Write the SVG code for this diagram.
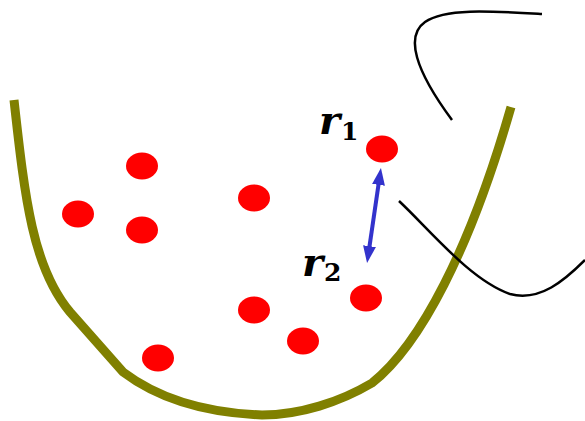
<svg xmlns="http://www.w3.org/2000/svg" width="585" height="421" viewBox="0 0 585 421">
<style>
.dot{fill:#ff0000}
.lbl{font-family:"DejaVu Serif","Liberation Serif",serif;font-weight:bold;font-style:italic;fill:#000}
.sub{font-family:"DejaVu Serif","Liberation Serif",serif;font-weight:bold;font-style:normal;fill:#000}
.blk{fill:none;stroke:#000;stroke-width:2.5}
</style>
<defs>
<marker id="ah" viewBox="0 -7 17 14" refX="7" refY="0" markerWidth="17" markerHeight="14" markerUnits="userSpaceOnUse" orient="auto-start-reverse">
<path d="M0,-6.5 L17,0 L0,6.5 z" fill="#3333cc"/>
</marker>
</defs>
<rect width="585" height="421" fill="#fff"/>
<path d="M14,100 C25,200 33,268 70,312 L123,372 C160,400 210,413 262,415 C300,415 340,402 372,383 C420,345 470,250 511,107" fill="none" stroke="#808000" stroke-width="9"/>
<path class="blk" d="M542,14 C490,11 445,8 425,22 C405,36 415,70 452,120"/>
<path class="blk" d="M399,201 C430,230 470,280 510,294 C540,302 565,280 585,260"/>
<g id="nodes">
<g id="p1"><ellipse class="dot" cx="142" cy="166" rx="16" ry="13.5"/></g>
<g id="p2"><ellipse class="dot" cx="78" cy="214" rx="16" ry="13.5"/></g>
<g id="p3"><ellipse class="dot" cx="142" cy="230" rx="16" ry="13.5"/></g>
<g id="p4"><ellipse class="dot" cx="254" cy="198" rx="16" ry="13.5"/></g>
<g id="p5"><ellipse class="dot" cx="254" cy="310" rx="16" ry="13.5"/></g>
<g id="p6"><ellipse class="dot" cx="158" cy="358" rx="16" ry="13.5"/></g>
<g id="p7"><ellipse class="dot" cx="303" cy="341" rx="16" ry="13.5"/></g>
<g id="r2"><ellipse class="dot" cx="366" cy="298" rx="16" ry="13.5"/></g>
<g id="r1"><ellipse class="dot" cx="382" cy="149" rx="16" ry="13.5"/></g>
</g>
<g id="connectors">
<line x1="379.5" y1="177.9" x2="368.5" y2="253.1" stroke="#3333cc" stroke-width="4" marker-start="url(#ah)" marker-end="url(#ah)"/>
</g>
<g id="labels">
<text class="lbl" x="319" y="134" font-size="40">r<tspan class="sub" font-size="25" dy="6" dx="1">1</tspan></text>
<text class="lbl" x="302" y="276" font-size="40">r<tspan class="sub" font-size="25" dy="5" dx="1">2</tspan></text>
</g>
</svg>
